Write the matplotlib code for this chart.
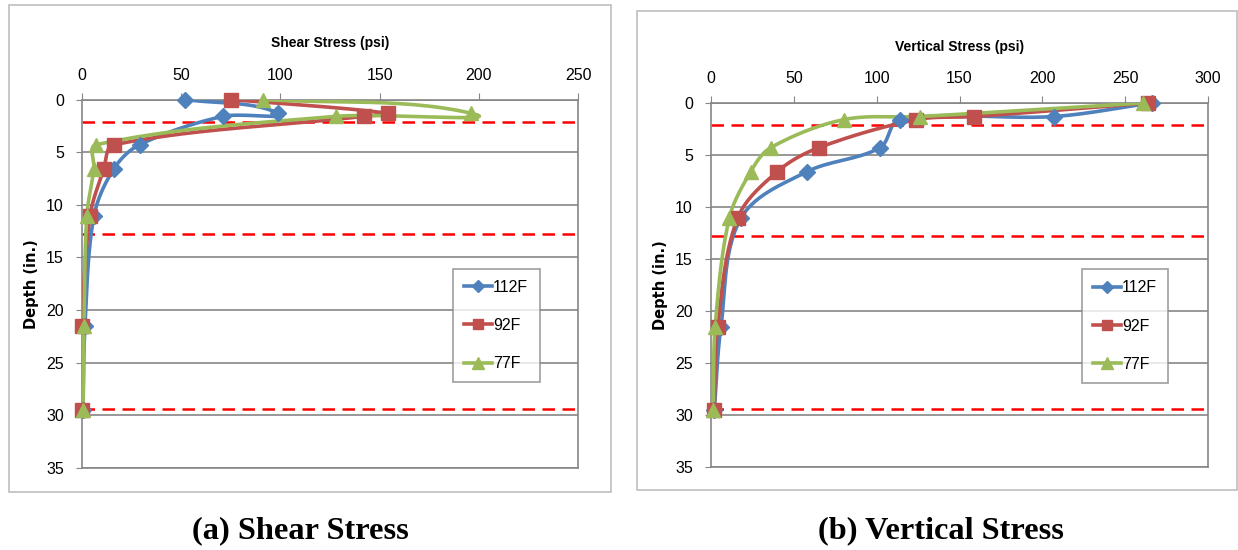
import matplotlib
matplotlib.use("Agg")
import matplotlib.pyplot as plt
from matplotlib import font_manager
from matplotlib.patches import Rectangle
from matplotlib.lines import Line2D
import numpy as np

# depth of the measuring points (in.)
depth = [0, 1.3, 1.6, 4.3, 6.6, 11.1, 21.5, 29.5]

# shear stress (psi)
shear_112 = [52, 99, 71, 29, 16, 6, 1.5, 0.5]
shear_92 = [75, 154, 142, 16, 11, 4, 0, 0]
shear_77 = [91, 196, 128, 7, 6, 2.4, 1, 0.5]

# vertical stress (psi)
vert_112 = [266, 207, 114, 102, 58, 18, 6, 2]
vert_92 = [264, 159, 124, 65, 40, 16, 4, 2]
vert_77 = [261, 126, 80, 36, 24, 11, 2.5, 1.4]

layer_lines = [2.1, 12.8, 29.4]
labels = ["112F", "92F", "77F"]
colors = ["#4F81BD", "#C0504D", "#9BBB59"]
markers = ["D", "s", "^"]
msizes = [8, 9.5, 10]

W, H = 1238, 550
fig = plt.figure(figsize=(W / 100, H / 100), dpi=100)

installed = {f.name for f in font_manager.fontManager.ttflist}
narrow = "Liberation Sans Narrow" in installed
tick_font = "Liberation Sans Narrow" if narrow else "Liberation Sans"
fs = 12.5 if narrow else 11.5
grid_c = "#868686"


def smooth(ax, x, y, xmax, ymax, n=30):
    # smoothed line through the points, tangents limited by segment length
    b = ax.get_position()
    sx = b.width * W / xmax
    sy = b.height * H / ymax
    P = np.column_stack([np.asarray(x, float) * sx, np.asarray(y, float) * sy])
    N = len(P)
    D = []
    for i in range(N):
        d = P[min(i + 1, N - 1)] - P[max(i - 1, 0)]
        D.append(d / (np.hypot(*d) or 1))
    out = [P[0]]
    t = np.linspace(0, 1, n)[1:, None]
    for i in range(N - 1):
        p1, p2 = P[i], P[i + 1]
        L = np.hypot(*(p2 - p1)) * 0.33
        c1 = p1 + D[i] * L
        c2 = p2 - D[i + 1] * L
        seg = (1 - t) ** 3 * p1 + 3 * (1 - t) ** 2 * t * c1 + 3 * (1 - t) * t ** 2 * c2 + t ** 3 * p2
        out.extend(seg)
    out = np.array(out)
    return out[:, 0] / sx, out[:, 1] / sy


def panel(rect, series, xmax, xlabel, legend_box):
    ax = fig.add_axes(rect)
    ax.set_xlim(0, xmax)
    ax.set_ylim(35, 0)
    ax.xaxis.tick_top()
    ax.xaxis.set_label_position("top")
    ax.set_xticks(np.arange(0, xmax + 1, 50))
    ax.set_yticks(np.arange(0, 36, 5))
    ax.tick_params(axis="x", length=5, color=grid_c, labelsize=fs, pad=7)
    ax.tick_params(axis="y", length=4, color=grid_c, labelsize=fs, pad=9)
    for lab in ax.get_xticklabels() + ax.get_yticklabels():
        lab.set_family(tick_font)
    ax.yaxis.grid(True, color=grid_c, lw=1.2)
    ax.set_axisbelow(True)
    for s in ["left", "top", "bottom", "right"]:
        ax.spines[s].set_color(grid_c)
        ax.spines[s].set_linewidth(1.2)
    ax.set_xlabel(xlabel, family=tick_font, fontweight="bold", fontsize=fs - 1.5, labelpad=15)
    ax.set_ylabel("Depth (in.)", family="DejaVu Sans", fontweight="bold", fontsize=10.5, labelpad=5)

    for d in layer_lines:
        ax.axhline(d, color="#FF0000", lw=1.8, dashes=(5, 3), zorder=1)

    handles = []
    for vals, lab, c, m, ms in zip(series, labels, colors, markers, msizes):
        sxv, syv = smooth(ax, vals, depth, xmax, 35)
        ax.plot(sxv, syv, color=c, lw=2.6, zorder=3, solid_capstyle="round")
        ax.plot(vals, depth, ls="none", marker=m, ms=ms, color=c, zorder=4, clip_on=False)
        handles.append(Line2D([], [], color=c, lw=2.6, marker=m, ms=ms * 0.8))

    leg = ax.legend(handles, labels, loc="center", bbox_to_anchor=legend_box,
                    prop={"family": tick_font, "size": fs}, frameon=True, fancybox=False,
                    labelspacing=1.45, handlelength=1.75, handletextpad=0.05,
                    borderpad=0.7, borderaxespad=0)
    leg.get_frame().set_edgecolor(grid_c)
    leg.get_frame().set_linewidth(1.2)
    return ax


# left panel: shear stress
panel([82 / W, 1 - 468 / H, 496 / W, 368.5 / H],
      [shear_112, shear_92, shear_77], 250, "Shear Stress (psi)",
      (0.752, 0.225, 0.167, 0.323))

# right panel: vertical stress
panel([711 / W, 1 - 467 / H, 497 / W, 364 / H],
      [vert_112, vert_92, vert_77], 300, "Vertical Stress (psi)",
      (0.75, 0.227, 0.167, 0.32))

# chart area borders
fig.patches.append(Rectangle((9 / W, 1 - 492 / H), 602 / W, 487 / H, transform=fig.transFigure,
                             fill=False, ec="#BFBFBF", lw=1.2))
fig.patches.append(Rectangle((637 / W, 1 - 490 / H), 600 / W, 479 / H, transform=fig.transFigure,
                             fill=False, ec="#BFBFBF", lw=1.2))

# captions
fig.text(300 / W, 1 - 531 / H, "(a) Shear Stress", ha="center", va="center",
         family="Liberation Serif", fontweight="bold", fontsize=23.3)
fig.text(941 / W, 1 - 531 / H, "(b) Vertical Stress", ha="center", va="center",
         family="Liberation Serif", fontweight="bold", fontsize=23.3)

fig.savefig("out.png", dpi=100)
